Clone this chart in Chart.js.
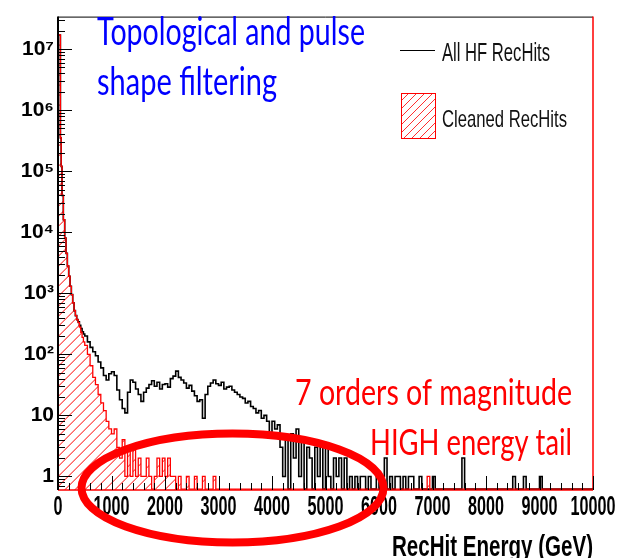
<!DOCTYPE html>
<html>
<head>
<meta charset="utf-8">
<script src="https://cdn.jsdelivr.net/npm/chart.js@4"></script>
<style>
  html, body { margin: 0; padding: 0; background: #fff; }
</style>
</head>
<body>
<canvas id="hist" width="635" height="558"></canvas>
<script>
// finer bins near the pedestal peak
var lowEdges = [0, 45, 60, 75, 100, 125, 150, 175, 200, 225, 250, 275, 300, 325, 350, 375, 400, 425, 450, 475];
var lowAll = [1.7e7, 3.5e5, 1.2e5, 4.0e4, 1.6e4, 8.0e3, 4.5e3, 2.8e3, 1.9e3, 1.3e3,
              950, 700, 520, 430, 370, 340, 300, 265, 235, 215];
var lowCleaned = [1.7e7, 3.5e5, 1.2e5, 4.0e4, 1.6e4, 8.0e3, 4.5e3, 2.8e3, 1.9e3, 1.3e3,
                  950, 700, 520, 430, 370, 330, 280, 230, 190, 160];

// 50 GeV bins from 500 GeV up to 10 TeV (one row = 500 GeV)
var tailStart = 500;
var tailWidth = 50;
var tailAll = [
  200, 160, 130, 110, 95, 75, 60, 45, 38, 48,   // 500
  52, 45, 26, 18, 13, 11, 24, 38, 35, 27,       // 1000
  22, 17, 24, 28, 32, 37, 30, 35, 27, 32,       // 1500
  33, 29, 40, 44, 53, 42, 38, 34, 28, 31,       // 2000
  25, 21, 17, 18, 9, 22, 30, 34, 38, 33,        // 2500
  31, 35, 27, 29, 30, 26, 24, 22, 20, 19,       // 3000
  16, 17, 14, 13, 11, 12, 9, 10, 8, 5,          // 3500
  8, 6, 7, 3, 1, 4, 0, 5, 2, 6,                 // 4000
  1, 4, 0, 3, 2, 0, 3, 1, 3, 0,                 // 4500
  3, 1, 0, 2, 1, 2, 0, 2, 0, 1,                 // 5000
  0, 1, 0, 1, 1, 0, 1, 0, 0, 1,                 // 5500
  0, 1, 2, 0, 1, 0, 1, 1, 0, 1,                 // 6000
  0, 1, 1, 0, 0, 1, 0, 0, 0, 0,                 // 6500
  1, 0, 0, 0, 0, 0, 0, 0, 0, 0,                 // 7000
  0, 2, 0, 0, 0, 0, 0, 0, 0, 0,                 // 7500
  0, 0, 0, 0, 0, 0, 0, 0, 0, 0,                 // 8000
  1, 0, 0, 0, 1, 0, 0, 0, 0, 0,                 // 8500
  1, 0, 0, 0, 0, 0, 0, 0, 0, 0,                 // 9000
  0, 0, 0, 0, 0, 0, 0, 0, 0, 0                  // 9500
];
var tailCleaned = [
  140, 100, 65, 42, 32, 22, 16, 12, 8, 6,       // 500
  5, 6, 3, 2, 4, 1, 3, 1, 3, 1,                 // 1000
  2, 1, 1, 2, 1, 0, 1, 2, 1, 2,                 // 1500
  1, 2, 1, 1, 0, 1, 0, 0, 1, 0,                 // 2000
  0, 1, 0, 0, 1, 0, 0, 0, 1, 0,                 // 2500
  0, 0, 0, 0, 0, 0, 0, 0, 0, 0,                 // 3000
  0, 0, 0, 0, 0, 0, 0, 0, 0, 0,                 // 3500
  0, 0, 0, 0, 0, 0, 0, 0, 0, 0,                 // 4000
  0, 0, 0, 0, 0, 0, 0, 0, 0, 0,                 // 4500
  0, 0, 0, 0, 0, 0, 0, 0, 0, 0,                 // 5000
  0, 0, 0, 0, 0, 0, 0, 0, 0, 0,                 // 5500
  0, 0, 0, 0, 0, 0, 0, 0, 0, 0,                 // 6000
  0, 0, 0, 0, 0, 0, 0, 0, 1, 0,                 // 6500
  0, 0, 0, 0, 0, 0, 0, 0, 0, 0,                 // 7000
  0, 0, 0, 0, 0, 0, 0, 0, 0, 0,                 // 7500
  0, 0, 0, 0, 0, 0, 0, 0, 0, 0,                 // 8000
  0, 0, 0, 0, 0, 0, 0, 0, 0, 0,                 // 8500
  0, 0, 0, 0, 0, 0, 0, 0, 0, 0,                 // 9000
  0, 0, 0, 0, 0, 0, 0, 0, 0, 0                  // 9500
];

var xMax = 10000;
var yMin = 0.62, yMax = 3.4e7;
var xTickLabels = [0, 1000, 2000, 3000, 4000, 5000, 6000, 7000, 8000, 9000, 10000];
var yTickLabels = [1, 10, 100, 1e3, 1e4, 1e5, 1e6, 1e7];
var sup = ['', '', '\u00b2', '\u00b3', '\u2074', '\u2075', '\u2076', '\u2077'];

// empty bins sit on the axis floor, as ROOT draws them on a log scale
function histPoints(lowVals, tailVals) {
  var pts = lowEdges.map(function (e, i) { return {x: e, y: lowVals[i]}; });
  tailVals.forEach(function (v, i) { pts.push({x: tailStart + i * tailWidth, y: v}); });
  pts.push({x: xMax, y: tailVals[tailVals.length - 1]});
  pts.forEach(function (p) { if (p.y <= 0) p.y = yMin; });
  return pts;
}

var canvas = document.getElementById('hist');
var ctx = canvas.getContext('2d');

// "/" hatching inside the current clip region
function hatchArea(c, left, top, right, bottom, step) {
  var h = bottom - top;
  c.beginPath();
  for (var k = left - h; k < right; k += step) {
    c.moveTo(k, bottom);
    c.lineTo(k + h, top);
  }
  c.strokeStyle = '#ff0000';
  c.lineWidth = 1;
  c.stroke();
}

// text squeezed horizontally to a given width, like the stretched slide
function fitText(c, text, x, y, width, font, color, align) {
  c.save();
  c.font = font;
  c.fillStyle = color;
  c.textBaseline = 'alphabetic';
  c.textAlign = align;
  var sx = width / c.measureText(text).width;
  c.translate(x, y);
  c.scale(sx, 1);
  c.fillText(text, 0, 0);
  c.restore();
}

var rootStyle = {
  id: 'rootStyle',
  beforeDatasetsDraw: function (chart) {
    var c = chart.ctx, a = chart.chartArea;
    c.save();
    c.lineWidth = 1;
    c.strokeStyle = '#000';
    c.beginPath();
    c.moveTo(a.left, a.top + 0.5); c.lineTo(a.right, a.top + 0.5);
    c.stroke();
    c.strokeStyle = '#f00';
    c.lineWidth = 1.5;
    c.beginPath();
    c.moveTo(a.right, a.top); c.lineTo(a.right, a.bottom);
    c.moveTo(a.left, a.bottom); c.lineTo(a.right, a.bottom);
    c.stroke();

    // hatched area under the cleaned histogram
    var pts = chart.getDatasetMeta(0).data;
    c.beginPath();
    c.moveTo(pts[0].x, a.bottom);
    for (var i = 0; i < pts.length; i++) {
      c.lineTo(pts[i].x, pts[i].y);
      if (i + 1 < pts.length) c.lineTo(pts[i + 1].x, pts[i].y);
    }
    c.lineTo(pts[pts.length - 1].x, a.bottom);
    c.closePath();
    c.save();
    c.clip();
    hatchArea(c, a.left, a.top, a.right, a.bottom, 10);
    c.restore();
    c.restore();
  },
  afterDatasetsDraw: function (chart) {
    var c = chart.ctx, a = chart.chartArea, x = chart.scales.x, y = chart.scales.y;
    c.save();
    c.strokeStyle = '#000';
    c.lineWidth = 2;
    c.beginPath();
    c.moveTo(a.left, a.top); c.lineTo(a.left, a.bottom);
    c.stroke();
    c.lineWidth = 1;
    c.beginPath();
    for (var e = 0; e <= xMax; e += 200) {
      var px = Math.round(x.getPixelForValue(e)) + 0.5;
      c.moveTo(px, a.bottom);
      c.lineTo(px, a.bottom - (e % 1000 === 0 ? 14 : 7));
    }
    for (var d = -1; d <= 7; d++) {
      for (var m = 1; m <= 9; m++) {
        var v = m * Math.pow(10, d);
        if (v < yMin || v > yMax) continue;
        var py = Math.round(y.getPixelForValue(v)) + 0.5;
        c.moveTo(a.left, py);
        c.lineTo(a.left + (m === 1 ? 14 : 7), py);
      }
    }
    c.stroke();
    c.restore();
  },
  afterDraw: function (chart) {
    var c = chart.ctx, a = chart.chartArea, x = chart.scales.x;

    // x tick labels
    c.save();
    c.font = 'bold 27px "Liberation Sans", Arial, sans-serif';
    c.fillStyle = '#000';
    c.textAlign = 'center';
    c.textBaseline = 'alphabetic';
    xTickLabels.forEach(function (v) {
      c.save();
      c.translate(x.getPixelForValue(v), a.bottom + 25);
      c.scale(0.6, 1);
      c.fillText(String(v), 0, 0);
      c.restore();
    });
    c.restore();

    fitText(c, 'RecHit Energy (GeV)', a.right, 556, 201,
      'bold 29px "Liberation Sans", Arial, sans-serif', '#000', 'right');

    // legend: line sample and hatched box (pixel diagonals)
    c.save();
    c.beginPath();
    c.moveTo(400, 50.5); c.lineTo(435, 50.5);
    c.strokeStyle = '#000';
    c.lineWidth = 1;
    c.stroke();
    c.fillStyle = '#ff3030';
    var bx = 401, by = 93, bw = 35, bh = 46;
    for (var k = -bh; k < bw; k += 8) {
      for (var t = 0; t < bh; t++) {
        var px = bx + k + t;
        if (px >= bx && px < bx + bw) c.fillRect(px, by + bh - 1 - t, 1, 1);
      }
    }
    c.strokeStyle = '#ff0000';
    c.lineWidth = 1;
    c.strokeRect(bx + 0.5, by + 0.5, bw - 1, bh - 1);
    c.restore();
    fitText(c, 'All HF RecHits', 442, 61, 108, '25px "Liberation Sans", Arial, sans-serif', '#111', 'left');
    fitText(c, 'Cleaned RecHits', 442, 127, 125, '24px "Liberation Sans", Arial, sans-serif', '#111', 'left');

    // slide annotations
    fitText(c, 'Topological and pulse', 97, 45, 268, '38px Lato, sans-serif', '#0000ff', 'left');
    fitText(c, 'shape filtering', 97, 95, 180, '38px Lato, sans-serif', '#0000ff', 'left');
    fitText(c, '7 orders of magnitude', 572, 405, 277, '36px Lato, sans-serif', '#ff0000', 'right');
    fitText(c, 'HIGH energy tail', 572, 455, 202, '36px Lato, sans-serif', '#ff0000', 'right');

    c.save();
    c.strokeStyle = '#ff0000';
    c.lineWidth = 8;
    c.beginPath();
    c.ellipse(232.5, 488, 151, 54.5, 0, 0, 2 * Math.PI);
    c.stroke();
    c.restore();
  }
};

new Chart(ctx, {
  type: 'line',
  data: {
    datasets: [{
      label: 'Cleaned RecHits',
      data: histPoints(lowCleaned, tailCleaned),
      borderColor: '#ff0000',
      borderWidth: 1.3,
      fill: false,
      stepped: true,
      pointRadius: 0,
      order: 0
    }, {
      label: 'All HF RecHits',
      data: histPoints(lowAll, tailAll),
      borderColor: '#000000',
      borderWidth: 1.6,
      fill: false,
      stepped: true,
      pointRadius: 0,
      order: 1
    }]
  },
  options: {
    responsive: false,
    animation: false,
    layout: { padding: { top: 10, right: 42, left: 0, bottom: 0 } },
    plugins: {
      legend: { display: false },
      tooltip: { enabled: false }
    },
    scales: {
      x: {
        type: 'linear',
        min: 0,
        max: xMax,
        ticks: { display: false },
        grid: { display: false, drawTicks: false },
        border: { display: false },
        afterFit: function (s) { s.height = 68; }
      },
      y: {
        type: 'logarithmic',
        min: yMin,
        max: yMax,
        grid: { display: false, drawTicks: false },
        border: { display: false },
        afterBuildTicks: function (s) {
          s.ticks = yTickLabels.map(function (v) { return {value: v}; });
        },
        ticks: {
          autoSkip: false,
          padding: 4,
          color: '#000',
          font: { family: '"Liberation Sans", Arial, sans-serif', weight: 'bold', size: 21 },
          callback: function (v) {
            var e = Math.round(Math.log10(v));
            return e === 0 ? '1' : e === 1 ? '10' : '10' + sup[e];
          }
        },
        afterFit: function (s) { s.width = 58; }
      }
    }
  },
  plugins: [rootStyle]
});
</script>
</body>
</html>
